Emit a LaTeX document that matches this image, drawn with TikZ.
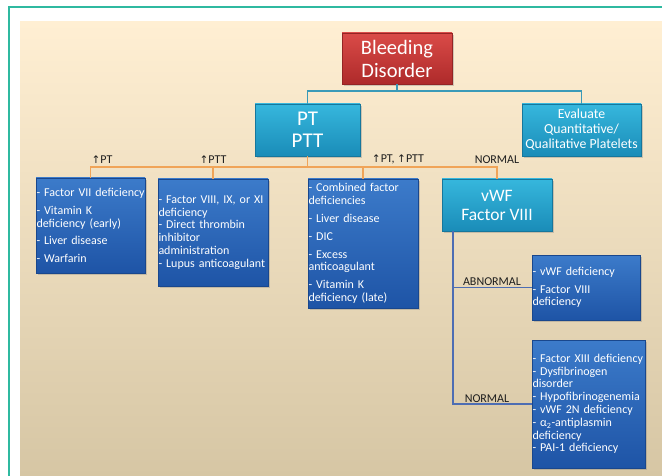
\documentclass[tikz,border=0pt]{standalone}
\usepackage{fontspec}
\setmainfont{Carlito}
\newfontfamily\arrowfont{DejaVu Sans}
\usetikzlibrary{
  shadows
}
\definecolor{bgtop}{HTML}{FFEFD3}
\definecolor{bgbot}{HTML}{D6C6A4}
\definecolor{frame}{HTML}{2FB9A0}
\definecolor{redtop}{HTML}{DA4B48}
\definecolor{redbot}{HTML}{AE2A2A}
\definecolor{tealtop}{HTML}{36B7DD}
\definecolor{tealbot}{HTML}{1A8CB8}
\definecolor{bluetop}{HTML}{3C7BCA}
\definecolor{bluebot}{HTML}{1E54A6}
\definecolor{tealline}{HTML}{3A9AB8}
\definecolor{orangeline}{HTML}{F0A458}
\definecolor{blueline}{HTML}{4D6DB3}
\definecolor{labelgray}{HTML}{1E1E1E}
\newcommand{\incr}{{\arrowfont\fontsize{10.5}{11}\selectfont\char"2191}}
\newcommand{\listfont}{\fontsize{12}{12.8}\selectfont}

\begin{document}
\begin{tikzpicture}[
  x=1pt, y=-1pt,
  shadowed/.style={drop shadow={shadow xshift=1.8pt, shadow yshift=-1.8pt, opacity=0.35}},
  redbox/.style={shadowed, top color=redtop, bottom color=redbot, draw=redbot!85!black,
                 text=white, align=center, inner sep=2pt},
  tealbox/.style={shadowed, top color=tealtop, bottom color=tealbot, draw=tealbot!85!black,
                  text=white, align=center, minimum height=52pt, inner sep=2pt},
  bluebox/.style={shadowed, top color=bluetop, bottom color=bluebot, draw=bluebot!85!black,
                  text=white, align=left, text width=#1, inner xsep=0.5pt, inner ysep=0pt,
                  font=\listfont},
  branchlabel/.style={text=labelgray, font=\fontsize{12}{13}\selectfont, inner sep=1pt},
  tline/.style={draw=tealline, line width=1.5pt},
  oline/.style={draw=orangeline, line width=1.8pt},
  bline/.style={draw=blueline, line width=1.5pt}
]
  \useasboundingbox (0,0) rectangle (662,476);
  % Background
  \fill[top color=bgtop, bottom color=bgbot] (20,22) rectangle (662,476);
  \draw[frame, line width=1.2pt] (9,476) -- (9,7) -- (662,7);

  % Top level
  \node[redbox, minimum width=110pt, minimum height=51pt,
        font=\fontsize{20.5}{23}\selectfont] (bleed) at (397,58.5) {Bleeding\\Disorder};
  \node[tealbox, minimum width=105pt,
        font=\fontsize{21}{21.5}\selectfont] (ptptt) at (307.5,130) {PT\\PTT};
  \node[tealbox, minimum width=119pt,
        font=\fontsize{13.8}{15}\selectfont] (platelets) at (581.5,130)
    {Evaluate\\Quantitative/\\Qualitative Platelets};

  % PT / PTT results
  \node[bluebox=108pt, minimum height=95pt] (ptup) at (90.5,225.5) {%
    \mbox{- Factor VII deficiency}\\[5pt]%
    - Vitamin K\\deficiency (early)\\[5pt]%
    - Liver disease\\[5pt]%
    - Warfarin%
  };
  \node[bluebox=109pt, minimum height=107pt] (pttup) at (213,232.5) {%
    - Factor VIII, IX, or XI\\deficiency\\%
    - Direct thrombin\\inhibitor\\administration\\%
    - Lupus anticoagulant%
  };
  \node[bluebox=109pt, minimum height=129pt] (bothup) at (363,243.5) {%
    - Combined factor\\deficiencies\\[5pt]%
    - Liver disease\\[5pt]%
    - DIC\\[5pt]%
    - Excess\\anticoagulant\\[5pt]%
    - Vitamin K\\deficiency (late)%
  };
  \node[tealbox, minimum width=110pt,
        font=\fontsize{17.5}{19}\selectfont] (vwf) at (497,205) {vWF\\Factor VIII};

  % vWF results
  \node[bluebox=107pt, minimum height=65pt] (vwfabn) at (586,287.5) {%
    - vWF deficiency\\[5pt]%
    - Factor VIII\\deficiency%
  };
  \node[bluebox=112pt, minimum height=128pt] (vwfnorm) at (588.5,404) {%
    \mbox{- Factor XIII deficiency}\\%
    - Dysfibrinogen\\disorder\\%
    - Hypofibrinogenemia\\%
    - vWF 2N deficiency\\%
    - α\textsubscript{2}-antiplasmin\\deficiency\\%
    - PAI-1 deficiency%
  };

  % Connectors
  \coordinate (topsplit) at (397,91);
  \draw[tline] (bleed.south) -- (topsplit) -| (ptptt.north);
  \draw[tline] (topsplit) -| (platelets.north);

  \coordinate (ptsplit) at (307.5,167);
  \draw[oline] (ptptt.south) -- (ptsplit);
  \draw[oline] (ptsplit) -| (ptup.north);
  \draw[oline] (ptsplit) -| (pttup.north);
  \draw[oline] (ptsplit) -| (bothup.north);
  \draw[oline] (ptsplit) -| (vwf.north);

  \draw[bline] ([xshift=11pt]vwf.south west) |- (vwfabn.west);
  \draw[bline] ([xshift=11pt]vwf.south west) |- (vwfnorm.west);

  % Labels
  \node[branchlabel] (lblpt) at (102,159.5) {\incr PT};
  \node[branchlabel] (lblptt) at (213,159.5) {\incr PTT};
  \node[branchlabel] (lblboth) at (398,159.5) {\incr PT, \incr PTT};
  \node[branchlabel] (lblnormal) at (497,160) {NORMAL};
  \node[branchlabel] (lblabn) at (492,281.5) {ABNORMAL};
  \node[branchlabel] (lblnormtwo) at (487,398.5) {NORMAL};
\end{tikzpicture}
\end{document}
